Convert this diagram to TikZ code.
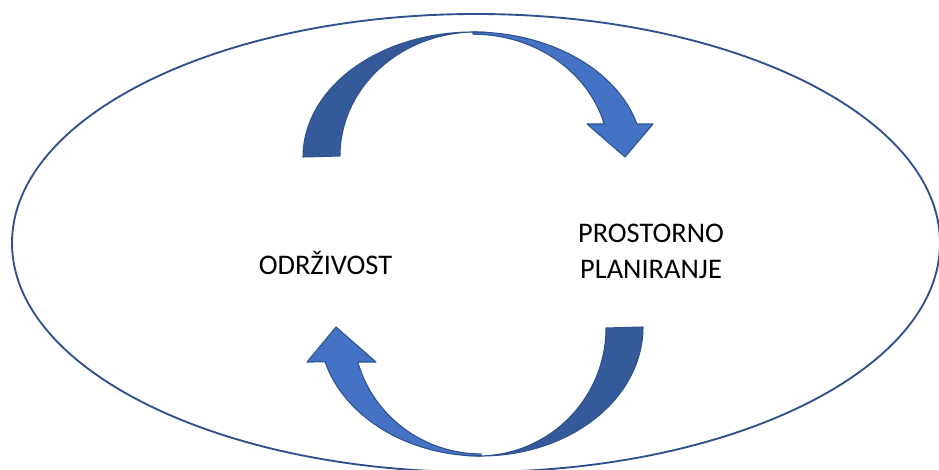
\documentclass[tikz,border=0pt]{standalone}
\usepackage{fontspec}
\setmainfont{Carlito}
\usepackage{xcolor}
\usetikzlibrary{positioning}

\definecolor{ringline}{HTML}{2F528F}
\definecolor{arrowlight}{HTML}{4472C4}
\definecolor{arrowdark}{HTML}{355A9A}

\begin{document}
\begin{tikzpicture}[x=0.75pt, y=-0.75pt,
    ring/.style={draw=ringline, line width=1.4pt},
    bandback/.style={fill=arrowdark, draw=ringline, line width=0.8pt, line join=round},
    bandfront/.style={fill=arrowlight, draw=ringline, line width=0.8pt, line join=round},
    label/.style={font=\fontsize{21.3}{27}\selectfont, inner sep=0pt, align=center}]
    \useasboundingbox (0,0) rectangle (939,470);
    \clip (0,0) rectangle (939,470);

    % veliki elipsasti okvir
    \draw[ring] (476,243) ellipse [x radius=464, y radius=229];

    % gornja zakrivljena strelica (lijevo -> desno)
    \draw[bandfront] (473,32) arc[start angle=270, end angle=344.7, x radius=170, y radius=125]
        -- (653,124) -- (625,157) -- (587,124) -- (604.2,124)
        arc[start angle=344.7, end angle=270, x radius=136, y radius=122] -- cycle;
    \draw[bandback] (303,157) arc[start angle=180, end angle=275, x radius=170, y radius=125]
        arc[start angle=275, end angle=180, x radius=136, y radius=124] -- cycle;

    % donja zakrivljena strelica (desno -> lijevo)
    \draw[bandfront] (481,456) arc[start angle=90, end angle=164.3, x radius=162, y radius=129]
        -- (307,362) -- (336,327) -- (376,362) -- (357.8,362)
        arc[start angle=164.3, end angle=90, x radius=128, y radius=126] -- cycle;
    \draw[bandback] (643,327) arc[start angle=0, end angle=95, x radius=162, y radius=129]
        arc[start angle=95, end angle=0, x radius=128, y radius=128] -- cycle;

    % pojmovi
    \node[label, anchor=base] (odrz) at (325.5,275) {ODRŽIVOST};
    \node[label, anchor=base] (plan) at (651,279) {PROSTORNO\\PLANIRANJE};
\end{tikzpicture}
\end{document}
